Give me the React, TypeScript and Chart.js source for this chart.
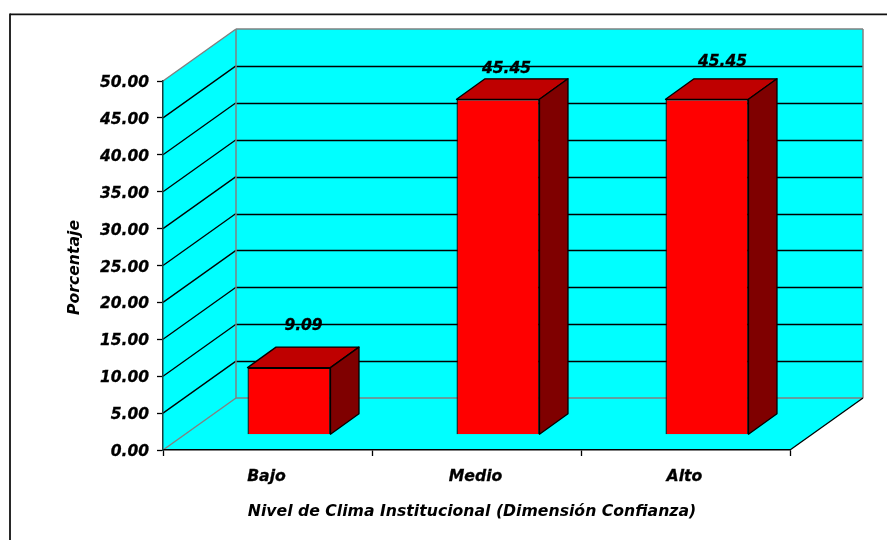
import React, { useEffect, useRef } from "react";
import { Chart, registerables } from "chart.js";

Chart.register(...registerables);

const categories = ["Bajo", "Medio", "Alto"];
const percentages = [9.09, 45.45, 45.45];
const yMax = 50;
const yStep = 5;
const xTitle = "Nivel de Clima Institucional (Dimensión Confianza)";
const yTitle = "Porcentaje";
const labelOffsetX = [14.5, 8.5, 15.5];
const labelOffsetY = [-42, -30, -37];

const FONT = "'DejaVu Sans'";
const DEPTH_X = 73;
const DEPTH_Y = -52;
const BAR_SHIFT_X = 21.5;
const BAR_SHIFT_Y = -15.3;
const BAR_DEPTH_X = 28.5;
const BAR_DEPTH_Y = -20.5;

const poly = (ctx: CanvasRenderingContext2D, pts: number[][], fill?: string, stroke?: string, lw = 1) => {
  ctx.beginPath();
  pts.forEach((p, i) => (i ? ctx.lineTo(p[0], p[1]) : ctx.moveTo(p[0], p[1])));
  ctx.closePath();
  if (fill) {
    ctx.fillStyle = fill;
    ctx.fill();
  }
  if (stroke) {
    ctx.strokeStyle = stroke;
    ctx.lineWidth = lw;
    ctx.lineJoin = "round";
    ctx.stroke();
  }
};

const line = (ctx: CanvasRenderingContext2D, x1: number, y1: number, x2: number, y2: number, color: string, lw = 1) => {
  ctx.beginPath();
  ctx.moveTo(x1, y1);
  ctx.lineTo(x2, y2);
  ctx.strokeStyle = color;
  ctx.lineWidth = lw;
  ctx.stroke();
};

const shifted = (s: any, method: "drawLabels" | "drawTitle", dx: number, dy: number) => {
  const orig = Object.getPrototypeOf(s)[method];
  s[method] = function (...args: any[]) {
    const c = this.ctx;
    c.save();
    c.translate(dx, dy);
    orig.apply(this, args);
    c.restore();
  };
};

const wallsPlugin = {
  id: "walls",
  beforeDraw(chart: any) {
    const { ctx, chartArea: a, scales } = chart;
    const y = scales.y;
    ctx.save();
    // outer frame
    line(ctx, 10, 14.3, 887, 14.3, "#111111", 1.8);
    line(ctx, 10, 13.4, 10, 540, "#111111", 1.8);
    const cyan = "#00FFFF";
    const bx = a.left + DEPTH_X;
    const rx = a.right + DEPTH_X;
    const tb = a.top + DEPTH_Y;
    const bb = a.bottom + DEPTH_Y;
    poly(ctx, [[a.left, a.bottom], [bx, bb], [bx, tb], [a.left, a.top]], cyan);
    poly(ctx, [[bx, tb], [rx, tb], [rx, bb], [bx, bb]], cyan);
    poly(ctx, [[a.left, a.bottom], [a.right, a.bottom], [rx, bb], [bx, bb]], cyan);
    for (let v = yStep; v < yMax; v += yStep) {
      const py = y.getPixelForValue(v);
      line(ctx, a.left, py, bx, py + DEPTH_Y, "#000000", 1.3);
      const wy = Math.round(py + DEPTH_Y) + 0.5;
      line(ctx, bx, wy, rx, wy, "#000000", 1.3);
    }
    const gray = "#808080";
    line(ctx, a.left, a.top, bx, tb, gray, 1.5);
    line(ctx, bx, tb, rx, tb, gray, 1.5);
    line(ctx, bx, tb, bx, bb, gray, 1.5);
    line(ctx, rx, tb, rx, bb, gray, 1.5);
    line(ctx, bx, bb, rx, bb, gray, 1.5);
    line(ctx, a.left, a.bottom, bx, bb, gray, 1.5);
    line(ctx, a.right, a.bottom, rx, bb, "#000000", 1.3);
    ctx.restore();
  },
};

const bars3dPlugin = {
  id: "bars3d",
  beforeDatasetDraw(chart: any) {
    chart.ctx.save();
    chart.ctx.translate(BAR_SHIFT_X, BAR_SHIFT_Y);
  },
  afterDatasetDraw(chart: any, args: any) {
    const { ctx } = chart;
    const meta = chart.getDatasetMeta(args.index);
    meta.data.forEach((bar: any) => {
      const l = bar.x - bar.width / 2;
      const r = bar.x + bar.width / 2;
      const t = bar.y;
      const b = bar.base;
      poly(ctx, [[l, t], [r, t], [r + BAR_DEPTH_X, t + BAR_DEPTH_Y], [l + BAR_DEPTH_X, t + BAR_DEPTH_Y]], "#BF0000", "#000000", 1.3);
      poly(ctx, [[r, t], [r + BAR_DEPTH_X, t + BAR_DEPTH_Y], [r + BAR_DEPTH_X, b + BAR_DEPTH_Y], [r, b]], "#7F0000", "#000000", 1.3);
    });
    ctx.restore();
  },
};

const labelsPlugin = {
  id: "valueLabels",
  afterDatasetsDraw(chart: any) {
    const { ctx } = chart;
    const meta = chart.getDatasetMeta(0);
    ctx.save();
    ctx.font = `italic bold 15.5px ${FONT}`;
    ctx.fillStyle = "#000000";
    ctx.strokeStyle = "#000000";
    ctx.lineWidth = 0.3;
    ctx.textAlign = "center";
    ctx.textBaseline = "middle";
    meta.data.forEach((bar: any, i: number) => {
      const tx = bar.x + BAR_SHIFT_X + labelOffsetX[i];
      const ty = bar.y + BAR_SHIFT_Y + labelOffsetY[i];
      ctx.fillText(percentages[i].toFixed(2), tx, ty);
      ctx.strokeText(percentages[i].toFixed(2), tx, ty);
    });
    ctx.restore();
  },
};

export default function App() {
  const ref = useRef<HTMLCanvasElement | null>(null);
  useEffect(() => {
    const font = { family: FONT, size: 15.7, weight: "bold" as const, style: "italic" as const };
    const tickFont = { ...font, size: 15.5 };
    const chart = new Chart(ref.current!, {
      type: "bar",
      data: {
        labels: categories,
        datasets: [
          {
            data: percentages,
            backgroundColor: "#FF0000",
            borderColor: "#000000",
            borderWidth: 1.3,
            categoryPercentage: 1,
            barPercentage: 0.397,
            clip: false as any,
          },
        ],
      },
      options: {
        animation: false,
        responsive: false,
        layout: { padding: { left: 0, top: 81, right: 97, bottom: 0 } },
        plugins: { legend: { display: false }, tooltip: { enabled: false } },
        scales: {
          x: {
            grid: { offset: true, drawOnChartArea: false, color: "#000000", tickLength: 6, tickColor: "#000000", tickWidth: 1.3 },
            border: { color: "#000000", width: 1.5 },
            ticks: { font, color: "#000000", padding: 12, maxRotation: 0, textStrokeColor: "#000000", textStrokeWidth: 0.3 },
            title: { display: true, text: xTitle, font, color: "#000000", padding: { top: 14, bottom: 19 } },
            afterFit: (s: any) => {
              s.height = 90;
            },
            afterUpdate: (s: any) => {
              shifted(s, "drawLabels", -1, 0);
              shifted(s, "drawTitle", -4.5, 0);
            },
          },
          y: {
            min: 0,
            max: yMax,
            grid: { drawOnChartArea: false, color: "#000000", tickLength: 6, tickWidth: 1.3 },
            border: { color: "#1a3a3a", width: 1.5 },
            ticks: {
              stepSize: yStep,
              font: tickFont,
              color: "#000000",
              padding: 8,
              textStrokeColor: "#000000",
              textStrokeWidth: 0.3,
              callback: (v: any) => Number(v).toFixed(2),
            },
            title: { display: true, text: yTitle, font, color: "#000000", padding: { top: 66, bottom: 0 } },
            afterFit: (s: any) => {
              s.width = 163;
            },
            afterUpdate: (s: any) => {
              shifted(s, "drawLabels", 0, 2);
              shifted(s, "drawTitle", 0, 2);
            },
          },
        },
      },
      plugins: [wallsPlugin, bars3dPlugin, labelsPlugin],
    });
    return () => chart.destroy();
  }, []);
  return (
    <canvas
      ref={ref}
      width={887}
      height={540}
      style={{ position: "absolute", left: 0, top: 0, display: "block" }}
    />
  );
}
